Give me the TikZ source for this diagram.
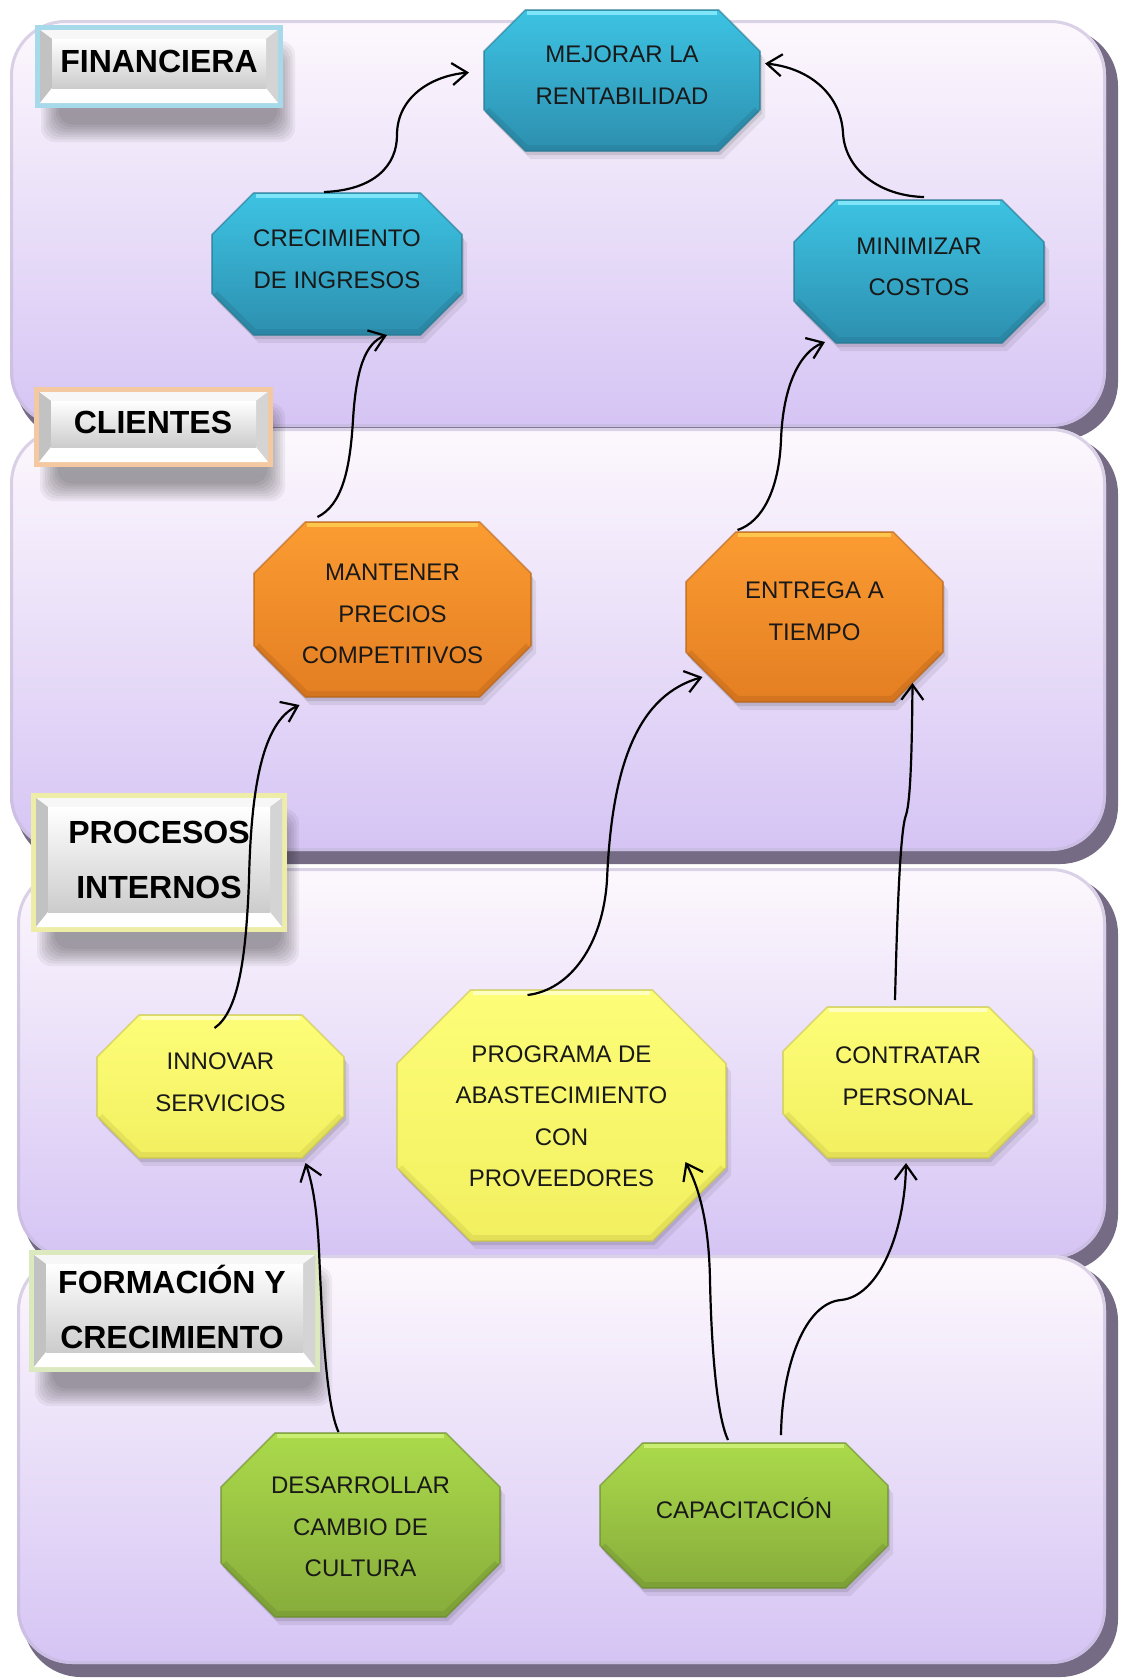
\documentclass[tikz,border=0pt]{standalone}
\usepackage{fontspec}
\setmainfont{Liberation Sans}
\usetikzlibrary{calc,arrows.meta}

% panel colours
\definecolor{panTop}{HTML}{FDF8FD}
\definecolor{panMid}{HTML}{EEE4FA}
\definecolor{panBot}{HTML}{D5C4F4}
\definecolor{panShade}{HTML}{756B84}
\definecolor{panRim}{HTML}{C4B9D8}
% octagon palettes
\definecolor{blueTop}{HTML}{3DC3E3}
\definecolor{blueBot}{HTML}{2D8FAF}
\definecolor{blueRim}{HTML}{25768F}
\definecolor{blueHi}{HTML}{7FE6FA}
\definecolor{orangeTop}{HTML}{FB9C32}
\definecolor{orangeBot}{HTML}{E47E22}
\definecolor{orangeRim}{HTML}{B5621A}
\definecolor{orangeHi}{HTML}{FFC64E}
\definecolor{yellowTop}{HTML}{FDFD78}
\definecolor{yellowBot}{HTML}{F2F060}
\definecolor{yellowRim}{HTML}{C9C54A}
\definecolor{yellowHi}{HTML}{FFFFC0}
\definecolor{greenTop}{HTML}{ABDA4B}
\definecolor{greenBot}{HTML}{87AC3B}
\definecolor{greenRim}{HTML}{6B8B2F}
\definecolor{greenHi}{HTML}{C9EE72}
% label frame colours
\definecolor{frameBlue}{HTML}{A6D9E9}
\definecolor{frameOrange}{HTML}{F4C8A0}
\definecolor{frameYellow}{HTML}{EEEDA8}
\definecolor{frameGreen}{HTML}{DCE8BE}

\tikzset{
  conn/.style={line width=2.2pt, -{Straight Barb[length=15pt,width=22pt,line width=2.2pt]}},
  octtext/.style={font=\fontsize{24}{41.5}\selectfont, align=center, inner sep=0pt, text=black!90},
  labtext/.style={font=\bfseries\fontsize{32}{55.5}\selectfont, align=center, inner sep=0pt},
  anchorbox/.style={inner sep=0pt, outer sep=0pt},
}

% rounded band with a dark bevel on its right and bottom
\newcommand\panelband[4]{%
  \fill[panShade,rounded corners=58pt] ({#1+6},{#2+8}) rectangle (#3,#4);
  \shade[top color=panTop,middle color=panMid,bottom color=panBot,rounded corners=55pt] (#1,#2) rectangle ({#3-12},{#4-13});
  \draw[panRim,opacity=0.6,line width=3pt,rounded corners=54pt] ({#1+1.5},{#2+1.5}) rectangle ({#3-13.5},{#4-14.5});
}

% octagon: name, x1, y1, x2, y2, palette, text y, text
\newcommand\octnode[8]{%
  \pgfmathsetmacro\oW{#4-#2}%
  \pgfmathsetmacro\oH{#5-#3}%
  \pgfmathsetmacro\oC{0.293*min(\oW,\oH)}%
  \pgfmathsetmacro\oXa{#2+\oC}%
  \pgfmathsetmacro\oXb{#4-\oC}%
  \pgfmathsetmacro\oYa{#3+\oC}%
  \pgfmathsetmacro\oYb{#5-\oC}%
  \def\octpath{(\oXa,#3) -- (\oXb,#3) -- (#4,\oYa) -- (#4,\oYb) -- (\oXb,#5) -- (\oXa,#5) -- (#2,\oYb) -- (#2,\oYa) -- cycle}%
  \fill[black,opacity=0.07,shift={(5,8)}] \octpath;
  \fill[black,opacity=0.10,shift={(2,4)}] \octpath;
  \shade[top color=#6Top,bottom color=#6Bot] \octpath;
  \draw[#6Rim,opacity=0.35,line width=6pt,line join=round] ({#2+3},\oYb) -- ({\oXa+1},{#5-3}) -- ({\oXb-1},{#5-3}) -- ({#4-3},\oYb);
  \draw[#6Hi,line width=4pt] ({\oXa+2},{#3+3}) -- ({\oXb-2},{#3+3});
  \draw[#6Rim,opacity=0.6,line width=1.6pt,line join=round] \octpath;
  \node[anchorbox,minimum width=\oW pt,minimum height=\oH pt] (#1) at ({(#2+#4)/2},{(#3+#5)/2}) {};
  \node[octtext] (#1-t) at ({(#2+#4)/2},#7) {#8};
}

% bevelled label: name, x1, y1, x2, y2, frame colour, text x, text y, text
\newcommand\labelnode[9]{%
  \foreach \k in {0,...,7}{%
    \fill[black,opacity=0.05,rounded corners=14pt] ({#2+6+2.5*\k},{#3+16+2.5*\k}) rectangle ({#4+12-2.5*\k},{#5+34-2.5*\k});}
  \fill[#6] (#2,#3) rectangle (#4,#5);
  \fill[black!3] ({#2+5},{#3+5}) -- ({#4-5},{#3+5}) -- ({#4-17},{#3+14}) -- ({#2+17},{#3+14}) -- cycle;
  \fill[black!24] ({#2+5},{#3+5}) -- ({#2+17},{#3+14}) -- ({#2+17},{#5-20}) -- ({#2+5},{#5-5}) -- cycle;
  \fill[black!17] ({#4-5},{#3+5}) -- ({#4-17},{#3+14}) -- ({#4-17},{#5-20}) -- ({#4-5},{#5-5}) -- cycle;
  \fill[white] ({#2+5},{#5-5}) -- ({#2+17},{#5-20}) -- ({#4-17},{#5-20}) -- ({#4-5},{#5-5}) -- cycle;
  \shade[top color=white,bottom color=black!20] ({#2+17},{#3+14}) rectangle ({#4-17},{#5-20});
  \node[labtext] (#1) at (#7,#8) {#9};
}

\begin{document}
\begin{tikzpicture}[x=1pt,y=-1pt]
\useasboundingbox (0,0) rectangle (1128,1679);
\fill[white] (0,0) rectangle (1128,1679);

% the four perspective bands
\panelband{10}{20}{1118}{440}
\panelband{10}{428}{1118}{864}
\panelband{17}{868}{1118}{1272}
\panelband{17}{1255}{1118}{1677}

% perspective labels
\labelnode{fin}{35}{25}{283}{108}{frameBlue}{159}{61}{FINANCIERA}
\labelnode{cli}{34}{387}{273}{467}{frameOrange}{153}{422}{CLIENTES}
\labelnode{proc}{31}{793}{287}{932}{frameYellow}{159}{860}{PROCESOS\\INTERNOS}
\labelnode{form}{29}{1250}{320}{1372}{frameGreen}{172}{1310}{FORMACI\smash{Ó}N Y\\CRECIMIENTO}

% objectives
\octnode{mej}{484}{10}{760}{151}{blue}{75}{MEJORAR LA\\RENTABILIDAD}
\octnode{crec}{212}{193}{462}{335}{blue}{259}{CRECIMIENTO\\DE INGRESOS}
\octnode{mini}{794}{200}{1044}{343}{blue}{267}{MINIMIZAR\\COSTOS}
\octnode{mant}{254}{522}{531}{697}{orange}{614}{MANTENER\\PRECIOS\\COMPETITIVOS}
\octnode{entr}{686}{532}{943}{702}{orange}{611}{ENTREGA A\\TIEMPO}
\octnode{inno}{97}{1015}{344}{1158}{yellow}{1082}{INNOVAR\\SERVICIOS}
\octnode{prog}{397}{990}{726}{1241}{yellow}{1116}{PROGRAMA DE\\ABASTECIMIENTO\\CON\\PROVEEDORES}
\octnode{contr}{783}{1007}{1033}{1158}{yellow}{1076}{CONTRATAR\\PERSONAL}
\octnode{desa}{221}{1433}{500}{1617}{green}{1527}{DESARROLLAR\\CAMBIO DE\\CULTURA}
\octnode{capa}{600}{1443}{888}{1588}{green}{1510}{CAPACITACI\smash{Ó}N}

% cause-effect links
\draw[conn] ($(crec.north)+(-13,-1)$) .. controls (375,190) and (397,165) .. (397,135) .. controls (397,98) and (430,76) .. ($(mej.west)+(-15,-8)$);
\draw[conn] ($(mini.north)+(5,-3)$) .. controls (880,196) and (845,170) .. (843,133) .. controls (841,95) and (810,68) .. ($(mej.east)+(5,-17)$);
\draw[conn] ($(mant.north)+(-75,-5)$) .. controls (342,505) and (350,470) .. (353,420) .. controls (356,370) and (365,343) .. ($(crec.south)+(50,0)$);
\draw[conn] ($(entr.north)+(-77,-2)$) .. controls (762,522) and (779,490) .. (781,440) .. controls (783,385) and (800,352) .. ($(mini.south)+(-94,-1)$);
\draw[conn] ($(inno.north)+(-6,13)$) .. controls (238,1012) and (246,960) .. (249,880) .. controls (251,790) and (262,722) .. ($(mant.south)+(-93,8)$);
\draw[conn] ($(prog.north)+(-34,5)$) .. controls (570,990) and (603,945) .. (607,880) .. controls (612,760) and (640,695) .. ($(entr.south)+(-112,-25)$);
\draw[conn] ($(contr.north)+(-13,-7)$) .. controls (897,920) and (900,830) .. (906,815) .. controls (911,800) and (912,740) .. ($(entr.south)+(98,-19)$);
\draw[conn] ($(desa.north)+(-22,-1)$) .. controls (326,1405) and (322,1320) .. (319,1250) .. controls (317,1210) and (313,1185) .. ($(inno.south)+(85,5)$);
\draw[conn] ($(capa.north)+(-16,-3)$) .. controls (715,1412) and (711,1330) .. (710,1280) .. controls (709,1225) and (700,1190) .. ($(prog.south)+(124,-79)$);
\draw[conn] ($(capa.north)+(37,-8)$) .. controls (782,1365) and (805,1303) .. (841,1300) .. controls (880,1296) and (905,1230) .. ($(contr.south)+(-2,5)$);
\end{tikzpicture}
\end{document}
